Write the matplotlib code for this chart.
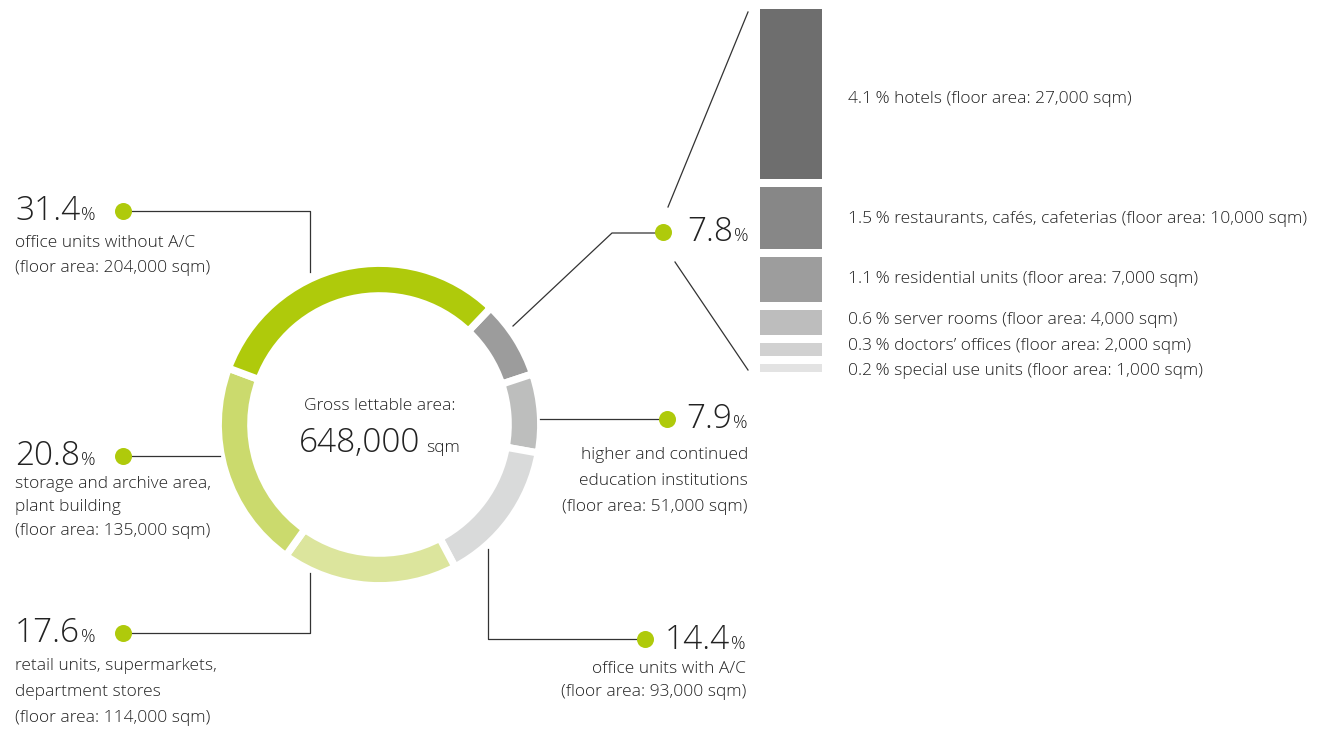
import matplotlib.pyplot as plt
import numpy as np

# ring segments, clockwise starting at the upper right
ring_share = [7.8, 7.9, 14.4, 17.6, 20.8, 31.4]
ring_colors = ["#9c9c9c", "#bdbebd", "#d9dada", "#dce59d", "#cbda6d", "#afca0b"]

# breakdown of the 7.8 % segment
other_share = [4.1, 1.5, 1.1, 0.6, 0.3, 0.2]
other_names = ["hotels", "restaurants, cafés, cafeterias", "residential units",
               "server rooms", "doctors’ offices", "special use units"]
other_area = ["27,000", "10,000", "7,000", "4,000", "2,000", "1,000"]
other_colors = ["#6e6e6e", "#878787", "#9d9d9d", "#bdbdbd", "#d1d1d1", "#e3e3e3"]

total_area = "648,000"

W, H = 1321, 730
green = "#afca0b"
txt_col = "#222222"
line_col = "#333333"

plt.rcParams["font.family"] = ["Open Sans", "DejaVu Sans"]
plt.rcParams["font.weight"] = "light"

fig = plt.figure(figsize=(W / 100, H / 100), dpi=100)
ax = fig.add_axes([0, 0, 1, 1])

# donut, drawn on a pixel grid with y pointing down
cx, cy = 379.5, 424.5
gap = 5.2  # points
ax.pie(ring_share, colors=ring_colors, center=(cx, cy), radius=161.2,
       startangle=-46.4, counterclock=True, normalize=True,
       wedgeprops=dict(width=32.5, edgecolor="white", linewidth=gap))
ax.set_xlim(0, W)
ax.set_ylim(H, 0)
ax.set_aspect("equal")
ax.axis("off")

# stacked bar for the 7.8 % breakdown
bar_gap = 0.194
ax_bar = fig.add_axes([760 / W, (H - 372) / H, 62 / W, 363 / H])
bottom = 0
for v, c in zip(other_share, other_colors):
    ax_bar.bar(0, v, bottom=bottom, width=1, color=c)
    bottom += v + bar_gap
ax_bar.set_xlim(-0.5, 0.5)
ax_bar.set_ylim(bottom - bar_gap, 0)
ax_bar.axis("off")

bar_text_y = [103, 223, 283, 324, 350, 375]
for v, name, area, y in zip(other_share, other_names, other_area, bar_text_y):
    ax.text(848, y, f"{v}\u2009% {name} (floor area: {area} sqm)", fontsize=12.5,
            color=txt_col, va="baseline", ha="left")

fig.canvas.draw()
renderer = fig.canvas.get_renderer()
inv = ax.transData.inverted()


def extent_x(t):
    bb = t.get_window_extent(renderer)
    x0 = inv.transform((bb.x0, bb.y0))[0]
    x1 = inv.transform((bb.x1, bb.y0))[0]
    return x0, x1


def share_label(x, y, value, ha="left", big=24, small=13):
    if ha == "left":
        t = ax.text(x, y, f"{value}", fontsize=big, color=txt_col, va="baseline", ha="left")
        x1 = extent_x(t)[1]
        ax.text(x1 + 1, y, "%", fontsize=small, color=txt_col, va="baseline", ha="left")
    else:
        p = ax.text(x, y, "%", fontsize=small, color=txt_col, va="baseline", ha="right")
        x0 = extent_x(p)[0]
        ax.text(x0 - 1, y, f"{value}", fontsize=big, color=txt_col, va="baseline", ha="right")


def lines(x, ys, texts, ha="left"):
    for y, s in zip(ys, texts):
        ax.text(x, y, s, fontsize=12.5, color=txt_col, va="baseline", ha=ha)


def dot(x, y):
    ax.scatter([x], [y], s=150, color=green, zorder=5, linewidths=0)


# 31.4 % office units without A/C
share_label(15, 220, ring_share[5])
lines(15, [247, 272], ["office units without A/C", "(floor area: 204,000 sqm)"])
ax.plot([123, 310, 310], [211, 211, 272], color=line_col, lw=0.9)
dot(123, 211)

# 20.8 % storage
share_label(15, 465, ring_share[4])
lines(15, [488, 511, 535], ["storage and archive area,", "plant building", "(floor area: 135,000 sqm)"])
ax.plot([123, 220], [456, 456], color=line_col, lw=0.9)
dot(123, 456)

# 17.6 % retail
share_label(15, 642, ring_share[3])
lines(15, [670, 696, 722], ["retail units, supermarkets,", "department stores", "(floor area: 114,000 sqm)"])
ax.plot([123, 310, 310], [633, 633, 573], color=line_col, lw=0.9)
dot(123, 633)

# 7.8 % other uses, fanned out to the bar
share_label(687, 241, ring_share[0])
ax.plot([663, 612, 513], [233, 233, 326], color=line_col, lw=0.9)
ax.plot([668, 748], [207, 12], color=line_col, lw=0.9)
ax.plot([675, 748], [262, 370], color=line_col, lw=0.9)
dot(663, 232)

# 7.9 % education
share_label(748, 428, ring_share[1], ha="right")
lines(748, [459, 485, 511], ["higher and continued", "education institutions", "(floor area: 51,000 sqm)"], ha="right")
ax.plot([540, 667], [419, 419], color=line_col, lw=0.9)
dot(667, 419)

# 14.4 % office units with A/C
share_label(746, 649, ring_share[2], ha="right")
lines(746, [673, 696], ["office units with A/C", "(floor area: 93,000 sqm)"], ha="right")
ax.plot([644, 488, 488], [639, 639, 549], color=line_col, lw=0.9)
dot(645, 639)

# centre caption
ax.text(cx, 410, "Gross lettable area:", fontsize=12.5, color=txt_col, va="baseline", ha="center")
n = ax.text(cx, 452, total_area, fontsize=24, color=txt_col, va="baseline", ha="left")
u = ax.text(cx, 452, "sqm", fontsize=12.5, color=txt_col, va="baseline", ha="left")
nx0, nx1 = extent_x(n)
ux0, ux1 = extent_x(u)
full = (nx1 - nx0) + 6 + (ux1 - ux0)
n.set_x(cx - full / 2)
u.set_x(cx - full / 2 + (nx1 - nx0) + 6)

fig.savefig("out.png", dpi=100)
